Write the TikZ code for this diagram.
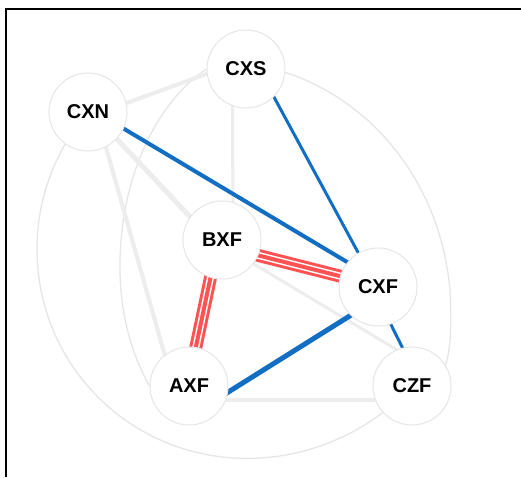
\documentclass[tikz,border=0pt]{standalone}
\usepackage{fontspec}
\setmainfont{Liberation Sans}
\usetikzlibrary{backgrounds}
\definecolor{linkblue}{RGB}{18,110,194}
\definecolor{linkred}{RGB}{255,82,82}
\definecolor{linkgrey}{RGB}{237,237,237}
\definecolor{ringgrey}{RGB}{230,230,230}
\tikzset{
x=1pt, y=-1pt, % one unit is one pixel, y runs downwards
site/.style={circle, draw=ringgrey, line width=1pt, fill=white, minimum size=78pt, inner sep=0pt, font=\fontsize{20}{20}\selectfont\bfseries}, % the round stations
greyline/.style={draw=linkgrey, line width=4pt, shorten <=-3pt, shorten >=-3pt}, % weak links
ringline/.style={draw=ringgrey, line width=1.3pt}, % the long bent links
blueline/.style={draw=linkblue, line width=3.5pt, shorten <=-3pt, shorten >=-3pt}, % strong links
tripleline/.style={draw=linkred, line width=13pt, shorten <=-4pt, shorten >=-4pt,
  postaction={draw=white, line width=7pt}, postaction={draw=linkred, line width=4pt}}, % three red strands
frameline/.style={draw=black, line width=2pt},
}
\begin{document}
\begin{tikzpicture}
\useasboundingbox (0,0) rectangle (521,477);

\node[site] (CXS) at (246,69) {CXS};
\node[site] (CXN) at (88,112) {CXN};
\node[site] (BXF) at (222,240) {BXF};
\node[site] (CXF) at (378,287) {CXF};
\node[site] (AXF) at (189,386) {AXF};
\node[site] (CZF) at (412,386) {CZF};

\begin{pgfonlayer}{background}
\fill[white] (0,0) rectangle (521,477);
\draw[frameline] (6,477) |- (521,9);

% bent links
\draw[ringline] (CXN.center) .. controls (12,200) and (22,333.5) .. (110.6,408.7)
                .. controls (199.4,483.9) and (332.6,471.7) .. (CZF.center);
\draw[ringline] (CXS.180) .. controls (160,100) and (122,170) .. (120,260)
                .. controls (119,320) and (135,360) .. (AXF.180);
\draw[ringline] (CXS.-5) .. controls (370,100) and (440,180) .. (450,290)
                .. controls (452,330) and (450,352) .. (CZF.32);

% straight links
\draw (CXN.13) edge[greyline] (CXS.187)
      (CXN.-43) edge[greyline, line width=5pt] (BXF.144)
      (CXN.-63) edge[greyline] (AXF.128)
      (CXS.250) edge[greyline, line width=3pt] (BXF.74)
      (BXF.-37) edge[greyline, line width=3pt] (CZF.113)
      (AXF.-21) edge[greyline] (CZF.201);

\draw (CXN.-25) edge[blueline, line width=4pt] (CXF.141)
      (CXS.-45) edge[blueline, line width=3pt] (CXF.120)
      (AXF.-9) edge[blueline, line width=5pt] (CXF.226)
      (CXF.-71) edge[blueline, line width=3pt] (CZF.104);

\draw (BXF.-23) edge[tripleline] (CXF.164)
      (BXF.-107) edge[tripleline] (AXF.80);
\end{pgfonlayer}
\end{tikzpicture}
\end{document}
